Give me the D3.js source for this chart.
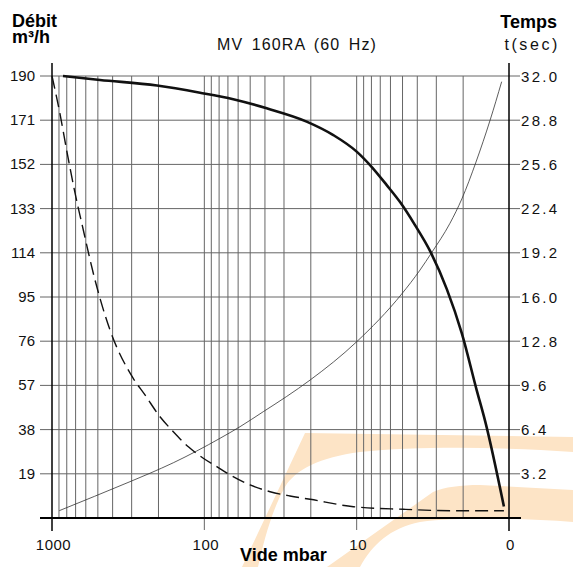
<!DOCTYPE html>
<html>
<head>
<meta charset="utf-8">
<script src="https://cdn.jsdelivr.net/npm/d3@7"></script>
<style>
body { margin: 0; background: #fff; }
.cond { font-family: "Liberation Sans", Arial, sans-serif; fill: #111; }
.bold { font-family: "Liberation Sans", Arial, sans-serif; font-weight: bold; }
</style>
</head>
<body>
<div id="chart"></div>
<script>
// vide (mbar) vs debit (m3/h), thick curve
const debitVide = [847, 484, 204.6, 106.7, 64.6, 38.96, 21.3, 14.23, 10, 8.17, 6.35, 5.19, 4.14, 3.3, 2.56, 2.04, 1.63, 1.43, 1.08];
const debitVal  = [190, 188.3, 185.9, 182.8, 180.0, 176.1, 170.4, 164.6, 157.5, 151.7, 143.1, 135.8, 125.9, 114.8, 98.4, 79.4, 55.0, 41.3, 4.9];

// vide (mbar) vs temps (sec), thin curve
const tempsVide = [896, 307.6, 227.4, 159.8, 112.2, 78.9, 58.3, 41.0, 28.8, 20.2, 10, 5.06, 3.84, 3.22, 2.44, 2.04, 1.647, 1.33, 1.117];
const tempsVal  = [0.53, 2.63, 3.24, 4.00, 4.85, 5.77, 6.61, 7.70, 8.80, 9.99, 12.76, 16.22, 17.95, 19.21, 21.34, 23.1, 25.77, 28.81, 31.59];

// dashed curve, in m3/h units
const dashVide = [1000, 886, 797, 717.5, 623, 522, 416, 292.9, 245.2, 195.4, 159.8, 127.3, 101.6, 82.9, 67.8, 50.1, 37.0, 27.4, 20.2, 10.5, 4.94, 2.32, 1.08];
const dashVal  = [190, 173.7, 157.3, 141.9, 123.8, 102.3, 80.8, 60.05, 52.9, 43.5, 37.1, 30.6, 25.7, 22.1, 18.5, 14.2, 11.3, 9.46, 8.04, 4.86, 3.74, 3.14, 3.14];

const xTickVals = [1000, 100, 10, 1];
const xTickLabels = ["1000", "100", "10", "0"];
const leftTicks = [19, 38, 57, 76, 95, 114, 133, 152, 171, 190];
const rightTicks = [3.2, 6.4, 9.6, 12.8, 16.0, 19.2, 22.4, 25.6, 28.8, 32.0];

const W = 573, H = 567;
const svg = d3.select("#chart").append("svg")
    .attr("width", W)
    .attr("height", H);

const x = d3.scaleLog().domain([1000, 1]).range([52, 509]);
const yL = d3.scaleLinear().domain([0, 190]).range([518, 76]);
const yR = d3.scaleLinear().domain([0, 32]).range([518, 76]);

// watermark swooshes (decoration)
const wm = svg.append("g").attr("fill", "#fde4c6");
wm.append("path").attr("d", "M242,567 L305,433 L573,437 L573,452 C500,447 420,446 360,452 C320,457 295,470 285,487 C272,510 264,540 258,567 Z");
wm.append("path").attr("d", "M327,567 L433,492 C445,487 460,485 480,485 L573,490 L573,522 C520,518 460,517 420,522 C390,528 372,545 360,567 Z");

// grid
const grid = svg.append("g").attr("stroke", "#666").attr("stroke-width", 1);
grid.selectAll("line.v")
    .data(x.ticks().filter(d => d < 1000 && d > 1))
    .enter().append("line")
    .attr("x1", d => x(d)).attr("x2", d => x(d))
    .attr("y1", yL(190))
    .attr("y2", d => (d === 100 || d === 10) ? 530 : yL(0));
grid.selectAll("line.h")
    .data(leftTicks)
    .enter().append("line")
    .attr("x1", 40).attr("x2", 520)
    .attr("y1", d => yL(d)).attr("y2", d => yL(d));

// axes
const ax = svg.append("g").attr("stroke", "#000");
ax.append("line").attr("x1", 40).attr("x2", 521).attr("y1", yL(0)).attr("y2", yL(0)).attr("stroke-width", 2);
ax.append("line").attr("x1", x(1000)).attr("x2", x(1000)).attr("y1", 63).attr("y2", 531).attr("stroke-width", 1.5);
ax.append("line").attr("x1", x(1)).attr("x2", x(1)).attr("y1", 63).attr("y2", 531).attr("stroke-width", 1.5);

// tick labels
svg.append("g").selectAll("text")
    .data(leftTicks)
    .enter().append("text")
    .attr("class", "cond")
    .attr("x", 35)
    .attr("y", d => yL(d) + 5)
    .attr("text-anchor", "end")
    .style("font-size", "15px")
    .text(d => d);

svg.append("g").selectAll("text")
    .data(rightTicks)
    .enter().append("text")
    .attr("class", "cond")
    .attr("x", 521)
    .attr("y", d => yR(d) + 5.5)
    .style("font-size", "15px")
    .style("letter-spacing", "2.3px")
    .text(d => d.toFixed(1));

svg.append("g").selectAll("text")
    .data(xTickVals)
    .enter().append("text")
    .attr("class", "cond")
    .attr("x", d => x(d) + 1.5)
    .attr("y", 550)
    .attr("text-anchor", "middle")
    .style("font-size", "15px")
    .style("letter-spacing", "0.5px")
    .text((d, i) => xTickLabels[i]);

// curves
const lineDebit = d3.line().curve(d3.curveMonotoneX)
    .x((d, i) => x(debitVide[i])).y(d => yL(d));
const lineTemps = d3.line().curve(d3.curveMonotoneX)
    .x((d, i) => x(tempsVide[i])).y(d => yR(d));
const lineDash = d3.line().curve(d3.curveMonotoneX)
    .x((d, i) => x(dashVide[i])).y(d => yL(d));

svg.append("path").attr("d", lineTemps(tempsVal))
    .attr("fill", "none").attr("stroke", "#333").attr("stroke-width", 0.8);
svg.append("path").attr("d", lineDash(dashVal))
    .attr("fill", "none").attr("stroke", "#111").attr("stroke-width", 1.4)
    .attr("stroke-dasharray", "13,6");
svg.append("path").attr("d", lineDebit(debitVal))
    .attr("fill", "none").attr("stroke", "#111").attr("stroke-width", 2.6);

// titles
svg.append("text").attr("class", "cond")
    .attr("x", 297).attr("y", 50)
    .attr("text-anchor", "middle")
    .style("font-size", "16px").style("letter-spacing", "1.1px").style("word-spacing", "3px")
    .text("MV 160RA (60 Hz)");
svg.append("text").attr("class", "bold")
    .attr("x", 12).attr("y", 27).style("font-size", "18px").text("Débit");
svg.append("text").attr("class", "bold")
    .attr("x", 12).attr("y", 43).style("font-size", "18px").text("m³/h");
svg.append("text").attr("class", "bold")
    .attr("x", 557).attr("y", 28).attr("text-anchor", "end").style("font-size", "18px").text("Temps");
svg.append("text").attr("class", "cond")
    .attr("x", 560).attr("y", 50).attr("text-anchor", "end")
    .style("font-size", "16px").style("letter-spacing", "2.6px")
    .text("t(sec)");
svg.append("text").attr("class", "bold")
    .attr("x", 240).attr("y", 561).style("font-size", "18px").text("Vide mbar");
</script>
</body>
</html>
